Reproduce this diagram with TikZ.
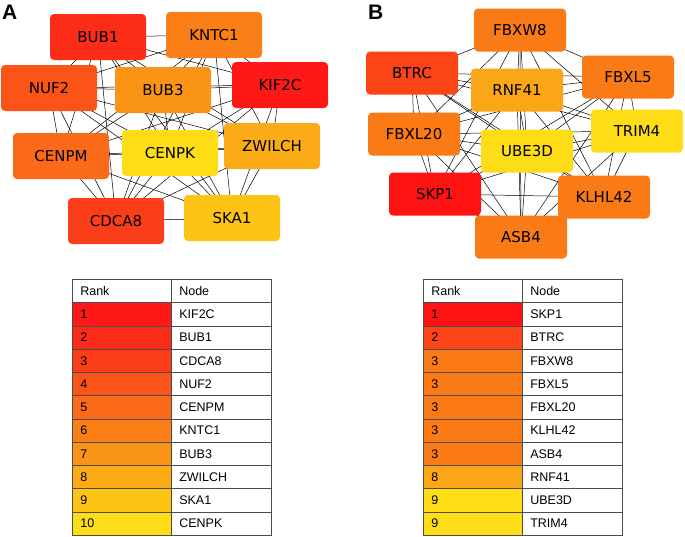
\documentclass[tikz,border=0pt]{standalone}
\usepackage{fontspec}
\setmainfont{Liberation Sans}
\newfontfamily\netfont{DejaVu Sans}
\usetikzlibrary{backgrounds}
% rank colours, red (1) to yellow (10)
\definecolor{colA1}{HTML}{FE1818}
\definecolor{colA2}{HTML}{FD2C18}
\definecolor{colA3}{HTML}{FC3E18}
\definecolor{colA4}{HTML}{FB5318}
\definecolor{colA5}{HTML}{FB6A18}
\definecolor{colA6}{HTML}{FA7F16}
\definecolor{colA7}{HTML}{FA9416}
\definecolor{colA8}{HTML}{FBAB16}
\definecolor{colA9}{HTML}{FDC416}
\definecolor{colA10}{HTML}{FEDD16}
\definecolor{colB1}{HTML}{FE1212}
\definecolor{colB2}{HTML}{FC4416}
\definecolor{colB3}{HTML}{FA7A16}
\definecolor{colB8}{HTML}{FBA616}
\definecolor{colB9}{HTML}{FEDD16}

\begin{document}
\begin{tikzpicture}[x=1pt,y=-1pt,
    gene/.style={rounded corners=4pt, minimum width=96pt, minimum height=46pt,
      inner sep=0pt, font=\netfont\fontsize{15}{18}\selectfont},
    geneb/.style={gene, minimum width=92pt, minimum height=43pt},
    link/.style={line width=0.5pt, black},
    cell/.style={draw=black!70, line width=0.6pt, anchor=north west,
      minimum height=23.27pt, text width=83pt, inner xsep=8pt, inner ysep=0pt,
      align=left, font=\fontsize{12.5}{14}\selectfont},
    panel/.style={font=\fontsize{21}{24}\selectfont\bfseries, anchor=north west,
      inner sep=0pt}]
  \useasboundingbox (0,0) rectangle (685,536);
  \node[panel] (labA) at (2,5) {A};
  \node[panel] (labB) at (368,5) {B};

  % network A
  \node[gene, fill=colA2] (bub1) at (98,37) {BUB1};
  \node[gene, fill=colA6] (kntc1) at (214,35) {KNTC1};
  \node[gene, fill=colA4] (nuf2) at (49,88) {NUF2};
  \node[gene, fill=colA7] (bub3) at (163,90) {BUB3};
  \node[gene, fill=colA1] (kif2c) at (280,85) {KIF2C};
  \node[gene, fill=colA5] (cenpm) at (61,156) {CENPM};
  \node[gene, fill=colA10] (cenpk) at (170,153) {CENPK};
  \node[gene, fill=colA8] (zwilch) at (272,146) {ZWILCH};
  \node[gene, fill=colA3] (cdca8) at (116,221) {CDCA8};
  \node[gene, fill=colA9] (ska1) at (232,218) {SKA1};

  % network B
  \node[geneb, fill=colB3] (fbxw8) at (520,30) {FBXW8};
  \node[geneb, fill=colB2] (btrc) at (412,73) {BTRC};
  \node[geneb, fill=colB3] (fbxl5) at (628,77) {FBXL5};
  \node[geneb, fill=colB8] (rnf41) at (517,90) {RNF41};
  \node[geneb, fill=colB3] (fbxl20) at (414,134) {FBXL20};
  \node[geneb, fill=colB9] (trim4) at (637,131) {TRIM4};
  \node[geneb, fill=colB9] (ube3d) at (527,151) {UBE3D};
  \node[geneb, fill=colB1] (skp1) at (435,194) {SKP1};
  \node[geneb, fill=colB3] (klhl42) at (604,197) {KLHL42};
  \node[geneb, fill=colB3] (asb4) at (521,237) {ASB4};

  % interactions, behind the boxes
  \def\genesA{bub1,kntc1,nuf2,bub3,kif2c,cenpm,cenpk,zwilch,cdca8,ska1}
  \def\genesB{fbxw8,btrc,fbxl5,rnf41,fbxl20,trim4,ube3d,skp1,klhl42,asb4}
  \begin{pgfonlayer}{background}
    \foreach \u [count=\i] in \genesA
      \foreach \v [count=\j] in \genesA
        {\ifnum\j>\i \draw[link] (\u.center) -- (\v.center);\fi}
    \foreach \u [count=\i] in \genesB
      \foreach \v [count=\j] in \genesB
        {\ifnum\j>\i \draw[link] (\u.center) -- (\v.center);\fi}
  \end{pgfonlayer}

  % ranking tables
  \node[cell, fill=white] (rankA) at (72,279) {Rank};
  \node[cell, text width=84pt] (nodeA) at (171,279) {Node};
  \foreach \r/\g [count=\i] in {1/KIF2C,2/BUB1,3/CDCA8,4/NUF2,5/CENPM,
      6/KNTC1,7/BUB3,8/ZWILCH,9/SKA1,10/CENPK} {
    \node[cell, fill=colA\i] (rA\i) at (72,279+23.27*\i) {\r};
    \node[cell, text width=84pt] (gA\i) at (171,279+23.27*\i) {\g};
  }
  \node[cell, fill=white] (rankB) at (423,279) {Rank};
  \node[cell, text width=84pt] (nodeB) at (522,279) {Node};
  \foreach \r/\g [count=\i] in {1/SKP1,2/BTRC,3/FBXW8,3/FBXL5,3/FBXL20,
      3/KLHL42,3/ASB4,8/RNF41,9/UBE3D,9/TRIM4} {
    \node[cell, fill=colB\r] (rB\i) at (423,279+23.27*\i) {\r};
    \node[cell, text width=84pt] (gB\i) at (522,279+23.27*\i) {\g};
  }
\end{tikzpicture}
\end{document}
